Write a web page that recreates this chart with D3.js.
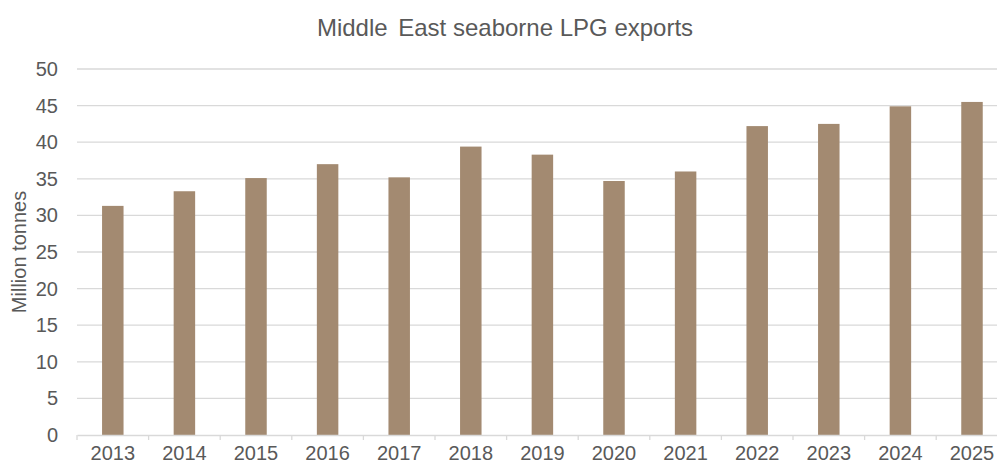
<!DOCTYPE html>
<html>
<head>
<meta charset="utf-8">
<script src="https://cdn.jsdelivr.net/npm/d3@7"></script>
<style>
  html, body { margin: 0; padding: 0; background: #fff; }
  svg { display: block; font-family: "Liberation Sans", Arial, sans-serif; }
</style>
</head>
<body>
<svg id="chart" width="997" height="466"></svg>
<script>
// Annual seaborne LPG exports from the Middle East (million tonnes)
const years = ["2013", "2014", "2015", "2016", "2017", "2018", "2019",
               "2020", "2021", "2022", "2023", "2024", "2025"];
const exportsMt = [31.3, 33.3, 35.1, 37.0, 35.2, 39.4, 38.3,
                   34.7, 36.0, 42.2, 42.5, 44.9, 45.5];
const yTicks = [0, 5, 10, 15, 20, 25, 30, 35, 40, 45, 50];

const svg = d3.select("#chart");
const textColor = "#595959";
const barColor = "#a38a71";
const gridColor = "#d9d9d9";

const plotLeft = 77, plotTop = 69, plotBottom = 435;
const step = 71.6;

const x = d3.scaleBand()
  .domain(years)
  .range([plotLeft, plotLeft + step * years.length])
  .padding(0);

const y = d3.scaleLinear()
  .domain([0, 50])
  .range([plotBottom, plotTop]);

// horizontal gridlines
svg.append("g")
  .selectAll("line")
  .data(yTicks.filter(d => d > 0))
  .join("line")
  .attr("x1", plotLeft)
  .attr("x2", x.range()[1])
  .attr("y1", d => y(d))
  .attr("y2", d => y(d))
  .attr("stroke", gridColor)
  .attr("stroke-width", 1.3);

// bars, 30% of each category slot
const barW = x.bandwidth() * 0.3;
svg.append("g")
  .selectAll("rect")
  .data(years.map((yr, i) => ({ yr, v: exportsMt[i] })))
  .join("rect")
  .attr("x", d => x(d.yr) + (x.bandwidth() - barW) / 2)
  .attr("width", barW)
  .attr("y", d => y(d.v))
  .attr("height", d => y(0) - y(d.v))
  .attr("fill", barColor);

// category axis
const xAxis = svg.append("g")
  .attr("transform", `translate(0,${plotBottom})`)
  .call(d3.axisBottom(x).tickSize(0).tickPadding(11));
xAxis.select(".domain").attr("stroke", gridColor).attr("stroke-width", 1.3);
xAxis.selectAll("text")
  .attr("fill", textColor)
  .style("font-size", "20px");

// tick marks between categories
svg.append("g")
  .selectAll("line")
  .data(years.map(yr => x(yr)))
  .join("line")
  .attr("x1", d => d).attr("x2", d => d)
  .attr("y1", plotBottom).attr("y2", plotBottom + 5)
  .attr("stroke", gridColor)
  .attr("stroke-width", 1.3);

// value axis
const yAxis = svg.append("g")
  .attr("transform", `translate(${plotLeft},0)`)
  .call(d3.axisLeft(y).tickValues(yTicks).tickSize(0).tickPadding(19));
yAxis.select(".domain").remove();
yAxis.selectAll("text")
  .attr("fill", textColor)
  .style("font-size", "20px");

// axis title
svg.append("text")
  .attr("transform", `translate(26,252) rotate(-90)`)
  .attr("text-anchor", "middle")
  .attr("fill", textColor)
  .style("font-size", "20px")
  .text("Million tonnes");

// chart title (slightly wider gap after the first word)
const title = svg.append("text")
  .attr("x", 505)
  .attr("y", 36)
  .attr("text-anchor", "middle")
  .attr("fill", textColor)
  .style("font-size", "24px");
title.append("tspan").text("Middle ");
title.append("tspan").attr("dx", 4).text("East seaborne LPG exports");
</script>
</body>
</html>
